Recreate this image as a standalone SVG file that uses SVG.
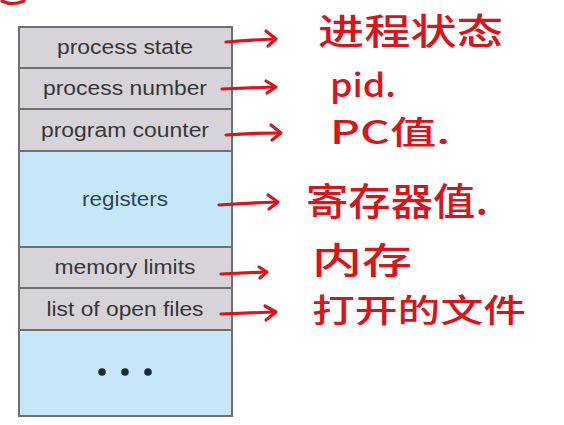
<svg xmlns="http://www.w3.org/2000/svg" width="564" height="425" viewBox="0 0 564 425">
<style>
.g{fill:#d6d4d9;stroke:#6f6f74;stroke-width:2}
.b{fill:#c6e7f7;stroke:#6f6f74;stroke-width:2}
.t{font-family:"Liberation Sans",Arial,sans-serif;font-size:20px;fill:#363638;text-anchor:middle}
.tb{fill:#2c4457}
.a{fill:none;stroke:#d8141c;stroke-width:3.2;stroke-linecap:round;stroke-linejoin:round}
.h{font-family:"Noto Sans CJK SC","Noto Sans",sans-serif;fill:#d8141c;font-weight:500}
</style>
<rect width="564" height="425" fill="#ffffff"/>
<path class="a" d="M2,1 Q12,6 24,1" stroke-width="4"/>
<g id="pcb">
<g id="process-state"><rect class="g" x="19" y="27" width="213" height="41"/><text class="t" x="125" y="54" textLength="136" lengthAdjust="spacingAndGlyphs">process state</text></g>
<g id="process-number"><rect class="g" x="19" y="68" width="213" height="41"/><text class="t" x="125" y="95" textLength="164" lengthAdjust="spacingAndGlyphs">process number</text></g>
<g id="program-counter"><rect class="g" x="19" y="109" width="213" height="42"/><text class="t" x="125" y="137" textLength="168" lengthAdjust="spacingAndGlyphs">program counter</text></g>
<g id="registers"><rect class="b" x="19" y="151" width="213" height="96"/><text class="t tb" x="125" y="206" textLength="86" lengthAdjust="spacingAndGlyphs">registers</text></g>
<g id="memory-limits"><rect class="g" x="19" y="247" width="213" height="41"/><text class="t" x="125" y="274" textLength="141" lengthAdjust="spacingAndGlyphs">memory limits</text></g>
<g id="open-files"><rect class="g" x="19" y="288" width="213" height="42"/><text class="t" x="125" y="316" textLength="157" lengthAdjust="spacingAndGlyphs">list of open files</text></g>
<g id="more"><rect class="b" x="19" y="330" width="213" height="86"/><circle cx="102" cy="372" r="3.8" fill="#1e2a33"/><circle cx="125" cy="372" r="3.8" fill="#1e2a33"/><circle cx="148" cy="372" r="3.8" fill="#1e2a33"/></g>
</g>
<g id="connectors">
<path class="a" d="M226,42 Q250,40 274,39"/><path class="a" d="M266,31 L276,39 L268,46" stroke-width="4"/>
<path class="a" d="M222,89 Q248,88 274,87"/><path class="a" d="M266,81 L276,87 L267,93" stroke-width="4"/>
<path class="a" d="M226,135 Q252,133 280,133"/><path class="a" d="M271,125 L281,133 L272,140" stroke-width="4"/>
<path class="a" d="M219,205 Q248,203 277,202"/><path class="a" d="M268,195 L278,202 L269,209" stroke-width="4.5"/>
<path class="a" d="M221,274 Q245,273 266,272" stroke-width="2.5"/><path class="a" d="M259,267 L267,272 L260,278" stroke-width="2.5"/>
<path class="a" d="M221,314 Q248,313 274,312" stroke-width="2.8"/><path class="a" d="M265,306 L276,312 L266,320" stroke-width="4"/>
</g>
<g id="notes">
<text class="h" x="318" y="45" font-size="36" textLength="185" lengthAdjust="spacingAndGlyphs">进程状态</text>
<text class="h" x="330" y="97" font-size="32" textLength="66" lengthAdjust="spacingAndGlyphs">pid.</text>
<text class="h" x="330" y="144" font-size="32" textLength="120" lengthAdjust="spacingAndGlyphs">PC值.</text>
<text class="h" x="306" y="215" font-size="38" textLength="182" lengthAdjust="spacingAndGlyphs">寄存器值.</text>
<text class="h" x="312" y="274" font-size="36" textLength="100" lengthAdjust="spacingAndGlyphs">内存</text>
<text class="h" x="312" y="322" font-size="32" textLength="214" lengthAdjust="spacingAndGlyphs">打开的文件</text>
</g>
</svg>
